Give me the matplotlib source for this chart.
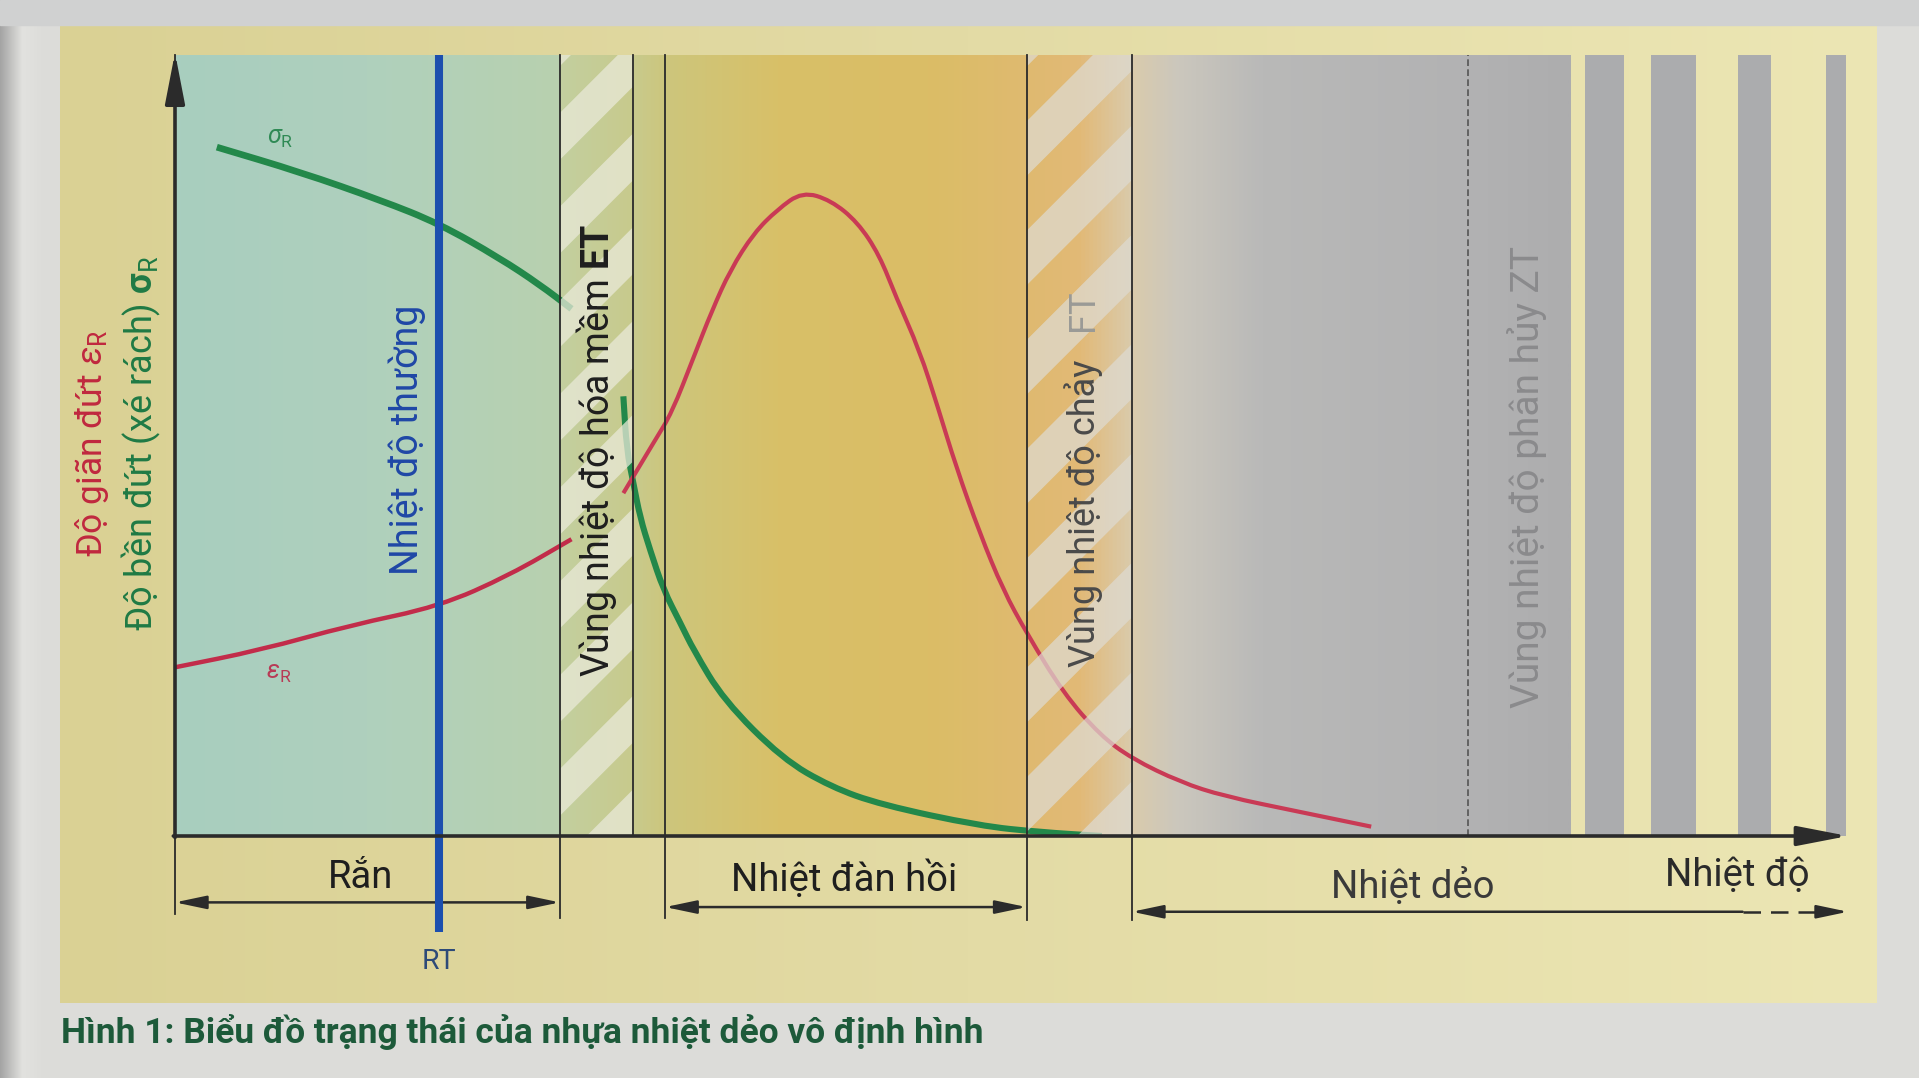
import numpy as np
import matplotlib.pyplot as plt
from matplotlib.colors import LinearSegmentedColormap
from matplotlib.patches import Rectangle, Polygon, PathPatch
from matplotlib.path import Path

plt.rcParams['font.family'] = ['Roboto', 'DejaVu Sans']
plt.rcParams['mathtext.fontset'] = 'custom'
plt.rcParams['mathtext.rm'] = 'Roboto'
plt.rcParams['mathtext.it'] = 'Roboto:italic'
plt.rcParams['mathtext.bf'] = 'Roboto:bold'

# ---- du lieu (truc nhiet do 0..100, truc tinh chat 0..100) ----
nhiet_do_rt = 15.8
ranh_gioi = [0.0, 23.0, 27.4, 29.3, 50.9, 57.2, 77.3, 83.4]   # ran | ET | dan hoi | FT | deo | ZT
soc_xam = [(84.3, 86.6), (88.2, 90.9), (93.4, 95.4), (98.7, 99.9)]

# do gian dut eps_R (2 doan, dut o vung ET)
eps_x1 = [0.0, 5.1, 10.5, 15.8, 20.0, 23.7]
eps_y1 = [21.6, 23.8, 27.0, 29.4, 33.4, 38.0]
eps_x2 = [26.8, 28.7, 29.7, 31.0, 32.1, 33.2, 34.6, 36.0, 37.5, 39.2, 40.8, 42.1, 43.1,
          44.5, 45.6, 46.7, 48.1, 49.5, 50.9, 53.1, 55.3, 57.2, 60.1, 62.7, 67.2, 71.5]
eps_y2 = [43.9, 50.7, 54.2, 61.3, 67.3, 72.5, 77.2, 80.2, 82.5, 81.4, 78.6, 74.4, 69.0,
          62.2, 54.9, 47.2, 38.8, 31.5, 26.0, 18.3, 12.9, 9.9, 6.9, 5.1, 3.1, 1.2]

# do ben dut sigma_R
sig_x1 = [2.5, 7.5, 12.3, 15.8, 19.4, 21.8, 23.7]
sig_y1 = [88.2, 85.0, 81.4, 78.4, 74.0, 70.6, 67.5]
sig_x2 = [26.8, 27.0, 27.4, 27.8, 28.4, 29.2, 30.2, 31.0, 32.8, 36.3, 39.2, 42.2, 48.1, 51.7, 55.4]
sig_y2 = [56.3, 49.4, 45.2, 40.8, 36.6, 31.5, 27.3, 23.8, 17.4, 9.9, 6.3, 4.0, 1.3, 0.5, 0.0]

W, H = 1919, 1078
fig = plt.figure(figsize=(W / 100, H / 100), dpi=100)
fig.patch.set_facecolor('#dcdcd9')

# nen trang sach
bg = fig.add_axes([0, 0, 1, 1])
bg.add_patch(Rectangle((0, 0), W, 25, color='#d0d1d1'))
bg.imshow(np.linspace(0, 1, 256)[None, :],
          cmap=LinearSegmentedColormap.from_list('trang', ['#dad194', '#e3dba5', '#ece6b4']),
          extent=(60, 1877, 1003, 25), aspect='auto')
bg.imshow(np.linspace(0, 1, 64)[None, :],
          cmap=LinearSegmentedColormap.from_list('bong', ['#a4a4a4', '#e2e2df', '#dcdcd9']),
          extent=(0, 45, H, 0), aspect='auto')
bg.set_xlim(0, W)
bg.set_ylim(H, 0)
bg.axis('off')

x0px, x1px, y0px, y1px = 175, 1848, 836, 55
ax = fig.add_axes([x0px / W, (H - y0px) / H, (x1px - x0px) / W, (y0px - y1px) / H])
ax.patch.set_alpha(0)

# vung ran (xanh nhat)
ax.imshow(np.linspace(0, 1, 64)[None, :],
          cmap=LinearSegmentedColormap.from_list('ran', ['#a8cebf', '#afd0bd', '#b8d0af']),
          extent=(ranh_gioi[0], ranh_gioi[1], 0, 100), aspect='auto', zorder=0)

# chuyen mau qua cac vung
moc = [(23.0, '#c3cf9f'), (27.4, '#c8ca8c'), (29.3, '#cdc67c'), (36.0, '#d8c068'),
       (45.0, '#dbbd66'), (50.9, '#dfba70'), (54.0, '#e2b976'), (57.2, '#dacbac'),
       (60.0, '#cbc7bd'), (65.0, '#b9b9b8'), (77.3, '#b2b2b3'), (83.4, '#adadae')]
a, b = ranh_gioi[1], ranh_gioi[7]
cmap_chinh = LinearSegmentedColormap.from_list('chinh', [((m - a) / (b - a), c) for m, c in moc])
ax.imshow(np.linspace(0, 1, 512)[None, :], cmap=cmap_chinh,
          extent=(a, b, 0, 100), aspect='auto', zorder=0)

for s0, s1 in soc_xam:
    ax.axvspan(s0, s1, color='#abacae', lw=0, zorder=0)


def duong_cong(xs, ys, mau, lw):
    # ve duong tron qua cac diem doc duoc (bezier bac 2 qua trung diem)
    p = np.column_stack([xs, ys])
    verts = [p[0], (p[0] + p[1]) / 2]
    codes = [Path.MOVETO, Path.LINETO]
    for i in range(1, len(p) - 1):
        verts += [p[i], (p[i] + p[i + 1]) / 2]
        codes += [Path.CURVE3, Path.CURVE3]
    verts.append(p[-1])
    codes.append(Path.LINETO)
    ax.add_patch(PathPatch(Path(verts, codes), fc='none', ec=mau, lw=lw,
                           capstyle='butt', zorder=2))


duong_cong(sig_x1, sig_y1, '#23884a', 4.8)
duong_cong(sig_x2, sig_y2, '#23884a', 4.4)
duong_cong(eps_x1, eps_y1, '#c22c4a', 3.2)
duong_cong(eps_x2, eps_y2, '#c93a55', 3.0)

# soc cheo vung ET va FT
kx = (x1px - x0px) / 100
ky = (y0px - y1px) / 100
k = kx / ky


def soc_cheo(xa, xb, mau, alpha, chu_ky=12.0):
    for c in np.arange(-k * (xb - xa) - chu_ky, 100 + chu_ky, chu_ky):
        ax.add_patch(Polygon([(xa, c), (xb, c + k * (xb - xa)),
                              (xb, c + k * (xb - xa) + chu_ky / 2), (xa, c + chu_ky / 2)],
                             closed=True, fc=mau, ec='none', alpha=alpha, zorder=3))


soc_cheo(ranh_gioi[1], ranh_gioi[2], '#e9e9d8', 0.75)
soc_cheo(ranh_gioi[4], ranh_gioi[5], '#dedbd2', 0.72, chu_ky=14.0)

# duong nhiet do phong
ax.plot([nhiet_do_rt, nhiet_do_rt], [-12.3, 100], color='#1c4fae', lw=5.8,
        solid_capstyle='butt', clip_on=False, zorder=4)

# cac duong ranh gioi
for xv, yd in [(ranh_gioi[0], -10.0), (ranh_gioi[1], -10.5), (ranh_gioi[2], 0),
               (ranh_gioi[3], -10.5), (ranh_gioi[4], -10.8), (ranh_gioi[5], -10.8)]:
    ax.plot([xv, xv], [yd, 100], color='#2a2a2a', lw=1.3, clip_on=False, zorder=4)
ax.plot([ranh_gioi[6], ranh_gioi[6]], [0, 100], color='#555555', lw=1.2,
        ls=(0, (4, 2)), zorder=4)

# truc
mau_truc = '#2b2b2b'
ax.annotate('', xy=(0, 100.3), xytext=(0, -0.2), annotation_clip=False,
            arrowprops=dict(arrowstyle='-|>,head_length=1.55,head_width=0.3',
                            mutation_scale=20, color=mau_truc, lw=2.6,
                            shrinkA=0, shrinkB=0), zorder=5)
ax.annotate('', xy=(100, 0), xytext=(-0.1, 0), annotation_clip=False,
            arrowprops=dict(arrowstyle='-|>,head_length=1.55,head_width=0.3',
                            mutation_scale=20, color=mau_truc, lw=2.6,
                            shrinkA=0, shrinkB=0), zorder=5)

# mui ten kich thuoc
kieu = '<|-|>,head_length=0.95,head_width=0.2'
ax.annotate('', xy=(ranh_gioi[0], -8.5), xytext=(ranh_gioi[1], -8.5), annotation_clip=False,
            arrowprops=dict(arrowstyle=kieu, mutation_scale=20, color=mau_truc, lw=1.8,
                            shrinkA=0, shrinkB=0))
ax.annotate('', xy=(ranh_gioi[3], -9.1), xytext=(ranh_gioi[4], -9.1), annotation_clip=False,
            arrowprops=dict(arrowstyle=kieu, mutation_scale=20, color=mau_truc, lw=1.8,
                            shrinkA=0, shrinkB=0))
ax.annotate('', xy=(ranh_gioi[5], -9.7), xytext=(93.7, -9.7), annotation_clip=False,
            arrowprops=dict(arrowstyle='-|>,head_length=0.95,head_width=0.2',
                            mutation_scale=20, color=mau_truc, lw=1.8, shrinkA=0, shrinkB=0))
ax.plot([93.7, 98.4], [-9.7, -9.7], color=mau_truc, lw=1.8, ls=(0, (7, 4)), clip_on=False)
ax.annotate('', xy=(100, -9.7), xytext=(98.2, -9.7), annotation_clip=False,
            arrowprops=dict(arrowstyle='-|>,head_length=0.95,head_width=0.2',
                            mutation_scale=20, color=mau_truc, lw=1.8, shrinkA=0, shrinkB=0))

# chu
ax.text(6.3, 89.4, r'$\sigma_{\mathrm{R}}$', color='#2f8a55', fontsize=18,
        ha='center', va='center', zorder=6)
ax.text(6.2, 20.9, r'$\epsilon_{\mathrm{R}}$', color='#b83a55', fontsize=18,
        ha='center', va='center', zorder=6)

ax.text(-4.95, 50.3, r'Độ giãn đứt $\varepsilon_{\mathrm{R}}$', color='#c0283f', fontsize=25.5,
        rotation=90, ha='center', va='center', clip_on=False, zorder=6)
ax.text(-2.0, 50.3, r'Độ bền đứt (xé rách) $\mathbf{\sigma}_{\mathrm{R}}$', color='#1f7a45',
        fontsize=26, rotation=90, ha='center', va='center', clip_on=False, zorder=6)

ax.text(13.9, 50.7, 'Nhiệt độ thường', color='#1f47a6', fontsize=27,
        rotation=90, ha='center', va='center', zorder=6)
ax.text(25.2, 49.4, r'Vùng nhiệt độ hóa mềm $\mathbf{ET}$', color='#1e1e1e', fontsize=27,
        rotation=90, ha='center', va='center', zorder=6)
ax.text(54.3, 21.6, 'Vùng nhiệt độ chảy', color='#4a4a4a', fontsize=26,
        rotation=90, ha='center', va='bottom', zorder=6)
ax.text(54.3, 64.6, 'FT', color='#9a9a96', fontsize=26,
        rotation=90, ha='center', va='bottom', zorder=6)
ax.text(80.8, 46.0, 'Vùng nhiệt độ phân hủy ZT', color='#8a8a8c', fontsize=28,
        rotation=90, ha='center', va='center', zorder=6)

ax.text(11.1, -5.3, 'Rắn', color='#1e1e1e', fontsize=27.5, ha='center', va='center', clip_on=False)
ax.text(40.0, -5.6, 'Nhiệt đàn hồi', color='#1e1e1e', fontsize=27.5, ha='center', va='center',
        clip_on=False)
ax.text(74.0, -6.5, 'Nhiệt dẻo', color='#3a3a3a', fontsize=27.5, ha='center', va='center',
        clip_on=False)
ax.text(93.4, -5.0, 'Nhiệt độ', color='#2a2a2a', fontsize=27.5, ha='center', va='center',
        clip_on=False)
ax.text(nhiet_do_rt, -16.1, 'RT', color='#2d4a78', fontsize=20.5, ha='center', va='center',
        clip_on=False)

ax.set_xlim(0, 100)
ax.set_ylim(0, 100)
ax.axis('off')

fig.text(61 / W, (H - 1032) / H, 'Hình 1: Biểu đồ trạng thái của nhựa nhiệt dẻo vô định hình',
         color='#1d5a3a', fontsize=25.5, fontweight='bold', ha='left', va='center')

fig.savefig('out.png', dpi=100, facecolor=fig.get_facecolor())
